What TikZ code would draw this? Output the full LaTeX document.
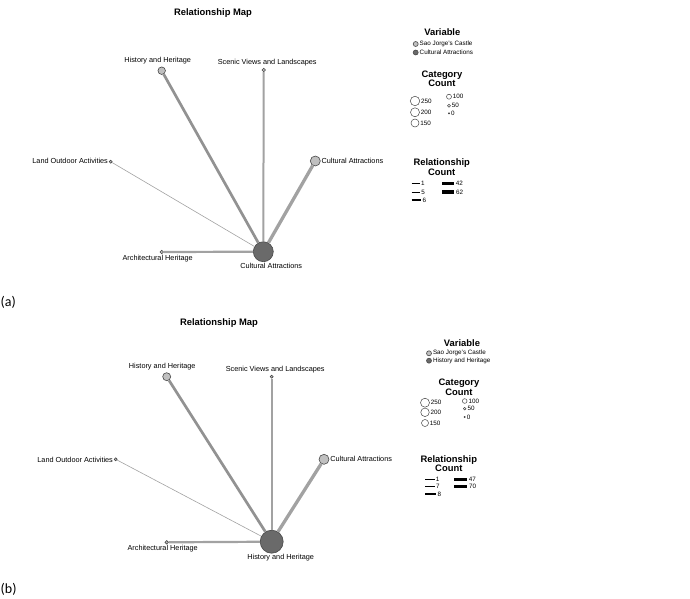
\documentclass[tikz,border=0pt]{standalone}
\usepackage{fontspec}
\setmainfont{Liberation Sans}
\newfontfamily\capfont{Carlito}
\usetikzlibrary{positioning}

\definecolor{edgegray}{HTML}{A2A2A2}
\definecolor{catfill}{HTML}{C0C0C0}
\definecolor{hubfill}{HTML}{6A6A6A}
\definecolor{rimgray}{HTML}{474747}

\begin{document}
\begin{tikzpicture}[x=1pt, y=-1pt]
	\tikzset{
		cat/.style={circle, inner sep=0pt, draw=rimgray, fill=catfill, line width=0.6pt},
		hub/.style={circle, inner sep=0pt, draw=rimgray, fill=hubfill, line width=0.6pt},
		ring/.style={circle, inner sep=0pt, draw=rimgray, fill=white, line width=0.5pt},
		nlab/.style={font=\fontsize{7.3}{8}\selectfont, inner sep=0.5pt},
		maptitle/.style={font=\bfseries\fontsize{9.4}{10}\selectfont},
		head/.style={font=\bfseries\fontsize{9.4}{9.4}\selectfont, align=center, inner sep=0pt},
		leg/.style={font=\fontsize{6.3}{7}\selectfont, inner sep=0.5pt},
		link/.style={draw=edgegray},
		key/.style={draw=black},
		tag/.style={font=\capfont\fontsize{14}{15}\selectfont, inner sep=0pt, anchor=west},
	}
	\useasboundingbox (0,0) rectangle (690,599);

	% (a) map
	\node[maptitle] (titleA) at (213,12.7) {Relationship Map};
	\node[hub, minimum size=20pt] (hubA) at (263.3,251.7) {};
	\node[cat, minimum size=7.5pt] (hhA) at (161.7,70.7) {};
	\node[cat, minimum size=3.5pt] (svA) at (263.7,70) {};
	\node[cat, minimum size=10pt] (caA) at (315.3,161) {};
	\node[cat, minimum size=3pt] (loA) at (110.7,161.7) {};
	\node[cat, minimum size=3.5pt] (ahA) at (161.7,252) {};
	\node[nlab, below=0.5pt of hubA, xshift=8pt] (hubAlab) {Cultural Attractions};
	\node[nlab, above=2pt of hhA, xshift=-4pt] (hhAlab) {History and Heritage};
	\node[nlab, above=1.5pt of svA, xshift=3.5pt] (svAlab) {Scenic Views and Landscapes};
	\node[nlab, right=0.3pt of caA] (caAlab) {Cultural Attractions};
	\node[nlab, left=0.3pt of loA, yshift=0.5pt] (loAlab) {Land Outdoor Activities};
	\node[nlab, below=0.5pt of ahA, xshift=-4pt] (ahAlab) {Architectural Heritage};
	\draw[link, line width=3.3pt] (hubA) -- (caA);
	\draw[link, line width=2.7pt, draw=edgegray!90!black] (hubA) -- (hhA);
	\draw[link, line width=2pt] (hubA) -- (svA);
	\draw[link, line width=2.2pt] (hubA) -- (ahA);
	\draw[link, line width=0.6pt] (hubA) -- (loA);

	% (a) legend
	\node[head] (varA) at (442.3,31.7) {Variable};
	\node[cat, minimum size=5pt] (vkA1) at (415.7,44) {};
	\node[hub, minimum size=5pt] (vkA2) at (415.7,52.5) {};
	\node[leg, right=0.5pt of vkA1] {Sao Jorge's Castle};
	\node[leg, right=0.5pt of vkA2] {Cultural Attractions};
	\node[head] (ccA) at (442,78.7) {Category\\Count};
	\node[ring, minimum size=9.5pt] (cA250) at (415,101) {};
	\node[ring, minimum size=9pt] (cA200) at (415,112.3) {};
	\node[ring, minimum size=8pt] (cA150) at (415,123) {};
	\node[ring, minimum size=5pt] (cA100) at (449,96.7) {};
	\node[ring, minimum size=3pt] (cA50) at (449,105.7) {};
	\node[ring, minimum size=1.3pt, fill=black] (cA0) at (449,113.3) {};
	\foreach \n in {250,200,150,100,50,0}
		\node[leg, right=0.5pt of cA\n] {\n};
	\node[head] (rcA) at (441.7,167) {Relationship\\Count};
	\draw[key, line width=0.7pt] (411.7,183.3) -- ++(8.6,0) node[leg, right] {1};
	\draw[key, line width=1pt] (411.7,192) -- ++(8.6,0) node[leg, right] {5};
	\draw[key, line width=2pt] (411.7,200) -- ++(9.3,0) node[leg, right] {6};
	\draw[key, line width=2.6pt] (442.3,183.3) -- ++(11.7,0) node[leg, right] {42};
	\draw[key, line width=3.3pt] (442.3,192) -- ++(11.7,0) node[leg, right] {62};

	\node[tag] (tagA) at (0.5,302) {(a)};

	% (b) map
	\node[maptitle] (titleB) at (219,322.7) {Relationship Map};
	\node[hub, minimum size=23pt] (hubB) at (271.7,541.7) {};
	\node[cat, minimum size=8pt] (hhB) at (166.7,376.7) {};
	\node[cat, minimum size=3pt] (svB) at (271.7,376.7) {};
	\node[cat, minimum size=10pt] (caB) at (324,459.3) {};
	\node[cat, minimum size=3pt] (loB) at (115.7,459.3) {};
	\node[cat, minimum size=3.5pt] (ahB) at (166.7,542.3) {};
	\node[nlab, below=0.5pt of hubB, xshift=9pt] (hubBlab) {History and Heritage};
	\node[nlab, above=2pt of hhB, xshift=-4.5pt] (hhBlab) {History and Heritage};
	\node[nlab, above=1.5pt of svB, xshift=3.5pt] (svBlab) {Scenic Views and Landscapes};
	\node[nlab, right=0.3pt of caB] (caBlab) {Cultural Attractions};
	\node[nlab, left=0.3pt of loB, yshift=-1pt] (loBlab) {Land Outdoor Activities};
	\node[nlab, below=0.5pt of ahB, xshift=-4pt] (ahBlab) {Architectural Heritage};
	\draw[link, line width=3.3pt] (hubB) -- (caB);
	\draw[link, line width=2.7pt, draw=edgegray!90!black] (hubB) -- (hhB);
	\draw[link, line width=1.8pt] (hubB) -- (svB);
	\draw[link, line width=2.2pt] (hubB) -- (ahB);
	\draw[link, line width=0.6pt] (hubB) -- (loB);

	% (b) legend
	\node[head] (varB) at (462,342.7) {Variable};
	\node[cat, minimum size=5pt] (vkB1) at (429,353.3) {};
	\node[hub, minimum size=5pt] (vkB2) at (429,360.7) {};
	\node[leg, right=0.5pt of vkB1] {Sao Jorge's Castle};
	\node[leg, right=0.5pt of vkB2] {History and Heritage};
	\node[head] (ccB) at (459,387.2) {Category\\Count};
	\node[ring, minimum size=9pt] (cB250) at (425,402.7) {};
	\node[ring, minimum size=8.5pt] (cB200) at (425,412.3) {};
	\node[ring, minimum size=7pt] (cB150) at (425,423) {};
	\node[ring, minimum size=4.7pt] (cB100) at (464.7,401) {};
	\node[ring, minimum size=2.7pt] (cB50) at (464.7,408.7) {};
	\node[ring, minimum size=1.3pt, fill=black] (cB0) at (464.7,417) {};
	\foreach \n in {250,200,150,100,50,0}
		\node[leg, right=0.5pt of cB\n] {\n};
	\node[head] (rcB) at (448.8,463.7) {Relationship\\Count};
	\draw[key, line width=0.7pt] (425,479.3) -- ++(10,0) node[leg, right] {1};
	\draw[key, line width=1pt] (425,486.7) -- ++(10,0) node[leg, right] {7};
	\draw[key, line width=2pt] (425,494) -- ++(11,0) node[leg, right] {8};
	\draw[key, line width=2.6pt] (454,479.3) -- ++(13,0) node[leg, right] {47};
	\draw[key, line width=3.3pt] (454,486.7) -- ++(13,0) node[leg, right] {70};

	\node[tag] (tagB) at (0.5,589) {(b)};
\end{tikzpicture}
\end{document}
